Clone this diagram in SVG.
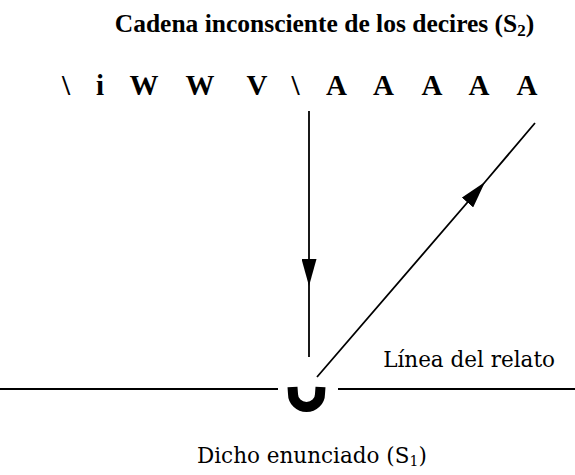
<svg xmlns="http://www.w3.org/2000/svg" width="575" height="475" viewBox="0 0 575 475">
<defs>
<style>
.title{font-family:"Liberation Serif","Times New Roman",serif;font-weight:bold;font-size:25.5px;fill:#000}
.row{font-family:"Liberation Serif","Times New Roman",serif;font-weight:bold;font-size:29px;fill:#000;text-anchor:middle}
.lbl{font-family:"DejaVu Serif","Liberation Serif",serif;font-size:21.5px;fill:#000}
.ln{stroke:#000;stroke-width:1.8;fill:none}
</style>
<marker id="ah" viewBox="0 0 27 15" refX="27" refY="7.5" markerUnits="userSpaceOnUse" markerWidth="27" markerHeight="15" orient="auto">
<path d="M0,0 L27,7.5 L0,15 z" fill="#000"/>
</marker>
</defs>
<rect width="575" height="475" fill="#fff"/>
<g id="title"><text class="title" x="324.5" y="32" text-anchor="middle">Cadena inconsciente de los decires (S<tspan font-size="17" dy="4">2</tspan><tspan dy="-4">)</tspan></text></g>
<g id="chain">
<text class="row" x="66" y="95">\</text>
<text class="row" x="100" y="95">i</text>
<text class="row" x="144" y="95">W</text>
<text class="row" x="200" y="95">W</text>
<text class="row" x="257" y="95">V</text>
<text class="row" x="295.5" y="95">\</text>
<text class="row" x="336.5" y="95">A</text>
<text class="row" x="383.5" y="95">A</text>
<text class="row" x="432" y="95">A</text>
<text class="row" x="479" y="95">A</text>
<text class="row" x="527" y="95">A</text>
</g>
<g id="connectors">
<path class="ln" d="M309,111 L309,286 L309,357" marker-mid="url(#ah)"/>
<path class="ln" d="M317,377 L485,182 L535,123" marker-mid="url(#ah)"/>
<path class="ln" d="M0,389 L278,389"/>
<path class="ln" d="M338,389 L575,389"/>
</g>
<g id="knot"><path d="M292.5,387 L293,394 A13.5,13 0 0 0 320,394 L320.5,387" fill="none" stroke="#000" stroke-width="10"/></g>
<g id="linea"><text class="lbl" x="555" y="367" text-anchor="end">Línea del relato</text></g>
<g id="dicho"><text class="lbl" x="197" y="463" font-size="22.5">Dicho enunciado (S<tspan font-size="14" dy="3">1</tspan><tspan dy="-3">)</tspan></text></g>
</svg>
